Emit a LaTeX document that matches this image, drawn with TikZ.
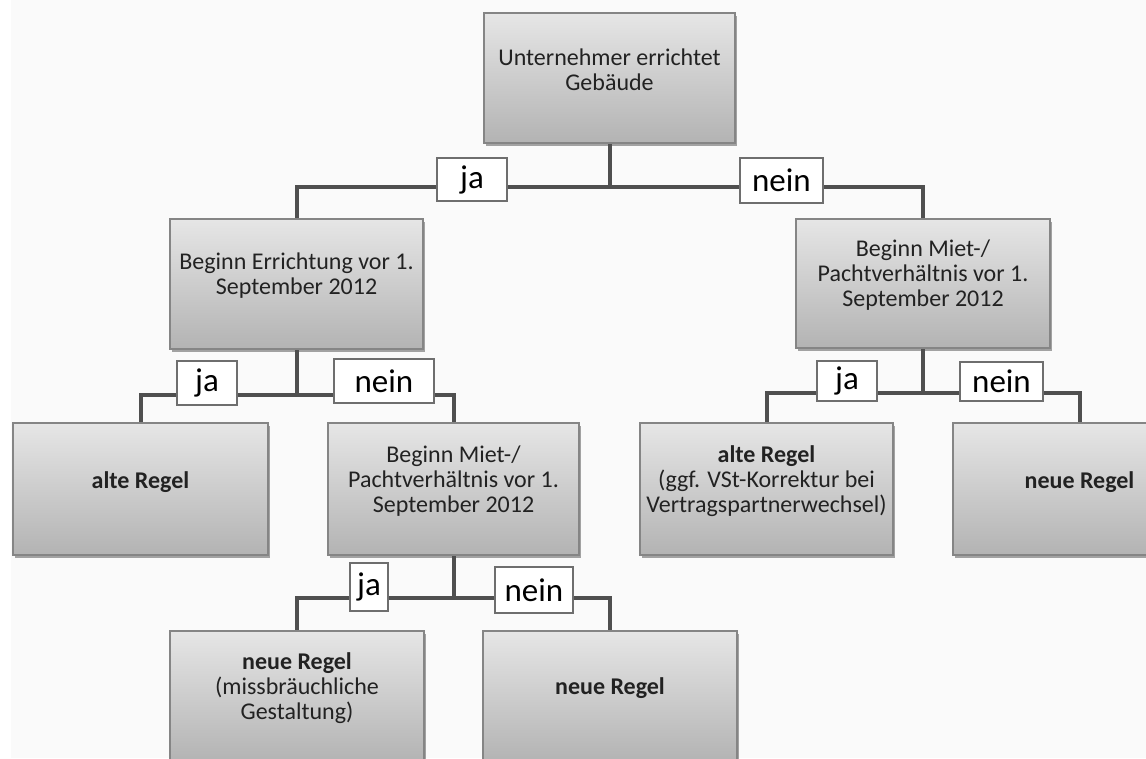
\documentclass[tikz,border=0pt]{standalone}
\usepackage{fontspec}
\setmainfont{Carlito}
\usetikzlibrary{shadows}
\definecolor{bg}{HTML}{FAFAFA}
\definecolor{linec}{HTML}{4F4F4F}
\definecolor{boxborder}{HTML}{858585}
\definecolor{boxtop}{HTML}{E6E6E6}
\definecolor{boxbot}{HTML}{B3B3B3}
\definecolor{txtc}{HTML}{222222}
\definecolor{lblborder}{HTML}{6E6E6E}
\begin{document}
\begin{tikzpicture}[x=1pt,y=-1pt,
  stepbox/.style={draw=boxborder, line width=2pt, top color=boxtop, bottom color=boxbot,
    minimum height=131pt, minimum width=253pt, inner sep=0pt,
    drop shadow={shadow xshift=2pt, shadow yshift=-3pt, opacity=0.35, fill=black}},
  boxtext/.style={text=txtc, align=center, font=\fontsize{24}{25}\selectfont, inner sep=0pt},
  conn/.style={draw=linec, line width=4pt},
  ans/.style={draw=lblborder, line width=1.8pt, fill=white, inner sep=0pt, text=black,
    font=\fontsize{33}{33}\selectfont}
]
\fill[white] (0,0) rectangle (1146,758);
\fill[bg] (11,0) rectangle (1146,758);
\useasboundingbox (0,0) rectangle (1146,758);
\clip (0,0) rectangle (1146,758);

% bus coordinates
\coordinate (b1) at (609.5,187);
\coordinate (b2) at (296.5,395);
\coordinate (b3) at (923,393);
\coordinate (b4) at (453.5,598);

% boxes
\node[stepbox, minimum width=251pt, minimum height=130pt] (T) at (609.5,78) {};
\node[stepbox, minimum width=253pt, minimum height=130pt] (A) at (296.5,284) {};
\node[stepbox, minimum width=254pt, minimum height=129pt] (B) at (923,283.5) {};
\node[stepbox, minimum width=255pt, minimum height=132pt] (C) at (140.5,489) {};
\node[stepbox, minimum width=251pt, minimum height=132pt] (D) at (453.5,489) {};
\node[stepbox, minimum width=253pt, minimum height=132pt] (E) at (766.5,489) {};
\node[stepbox, minimum width=253pt, minimum height=132pt] (F) at (1079.5,489) {};
\node[stepbox, minimum width=254pt, minimum height=131pt] (G) at (297,696.5) {};
\node[stepbox, minimum width=254pt, minimum height=131pt] (H) at (610,696.5) {};

% box texts
\node[boxtext] (Tt) at (609.5,70) {Unternehmer errichtet\\Gebäude};
\node[boxtext] (At) at (296.5,276) {Beginn Errichtung vor 1.\\September 2012};
\node[boxtext] (Bt) at (923,275) {Beginn Miet-/\\Pachtverhältnis vor 1.\\September 2012};
\node[boxtext] (Ct) at (140.5,482) {\textbf{alte Regel}};
\node[boxtext] (Dt) at (453.5,481) {Beginn Miet-/\\Pachtverhältnis vor 1.\\September 2012};
\node[boxtext] (Et) at (766.5,481) {\textbf{alte Regel}\\(ggf. VSt-Korrektur bei\\Vertragspartnerwechsel)};
\node[boxtext] (Ft) at (1079.5,482) {\textbf{neue Regel}};
\node[boxtext] (Gt) at (297,688) {\textbf{neue Regel}\\(missbräuchliche\\Gestaltung)};
\node[boxtext] (Ht) at (610,688) {\textbf{neue Regel}};

% connectors
\draw[conn] (T.south) -- (b1);
\draw[conn] (b1) -| (A.north);
\draw[conn] (b1) -| (B.north);
\draw[conn] (A.south) -- (b2);
\draw[conn] (b2) -| (C.north);
\draw[conn] (b2) -| (D.north);
\draw[conn] (B.south) -- (b3);
\draw[conn] (b3) -| (E.north);
\draw[conn] (b3) -| (F.north);
\draw[conn] (D.south) -- (b4);
\draw[conn] (b4) -| (G.north);
\draw[conn] (b4) -| (H.north);

% answer labels
\node[ans, minimum width=70pt, minimum height=43pt] (ja1) at (472,179.5) {ja};
\node[ans, minimum width=83pt, minimum height=45pt] (nein1) at (781.5,180.5) {nein};
\node[ans, minimum width=60pt, minimum height=44pt] (ja2) at (207,383) {ja};
\node[ans, minimum width=100pt, minimum height=44pt] (nein2) at (384,381) {nein};
\node[ans, minimum width=60pt, minimum height=40pt] (ja3) at (847,381) {ja};
\node[ans, minimum width=83pt, minimum height=39pt] (nein3) at (1001.5,381.5) {nein};
\node[ans, minimum width=38pt, minimum height=48pt] (ja4) at (369,587) {ja};
\node[ans, minimum width=78pt, minimum height=46pt] (nein4) at (534,590) {nein};
\end{tikzpicture}
\end{document}
